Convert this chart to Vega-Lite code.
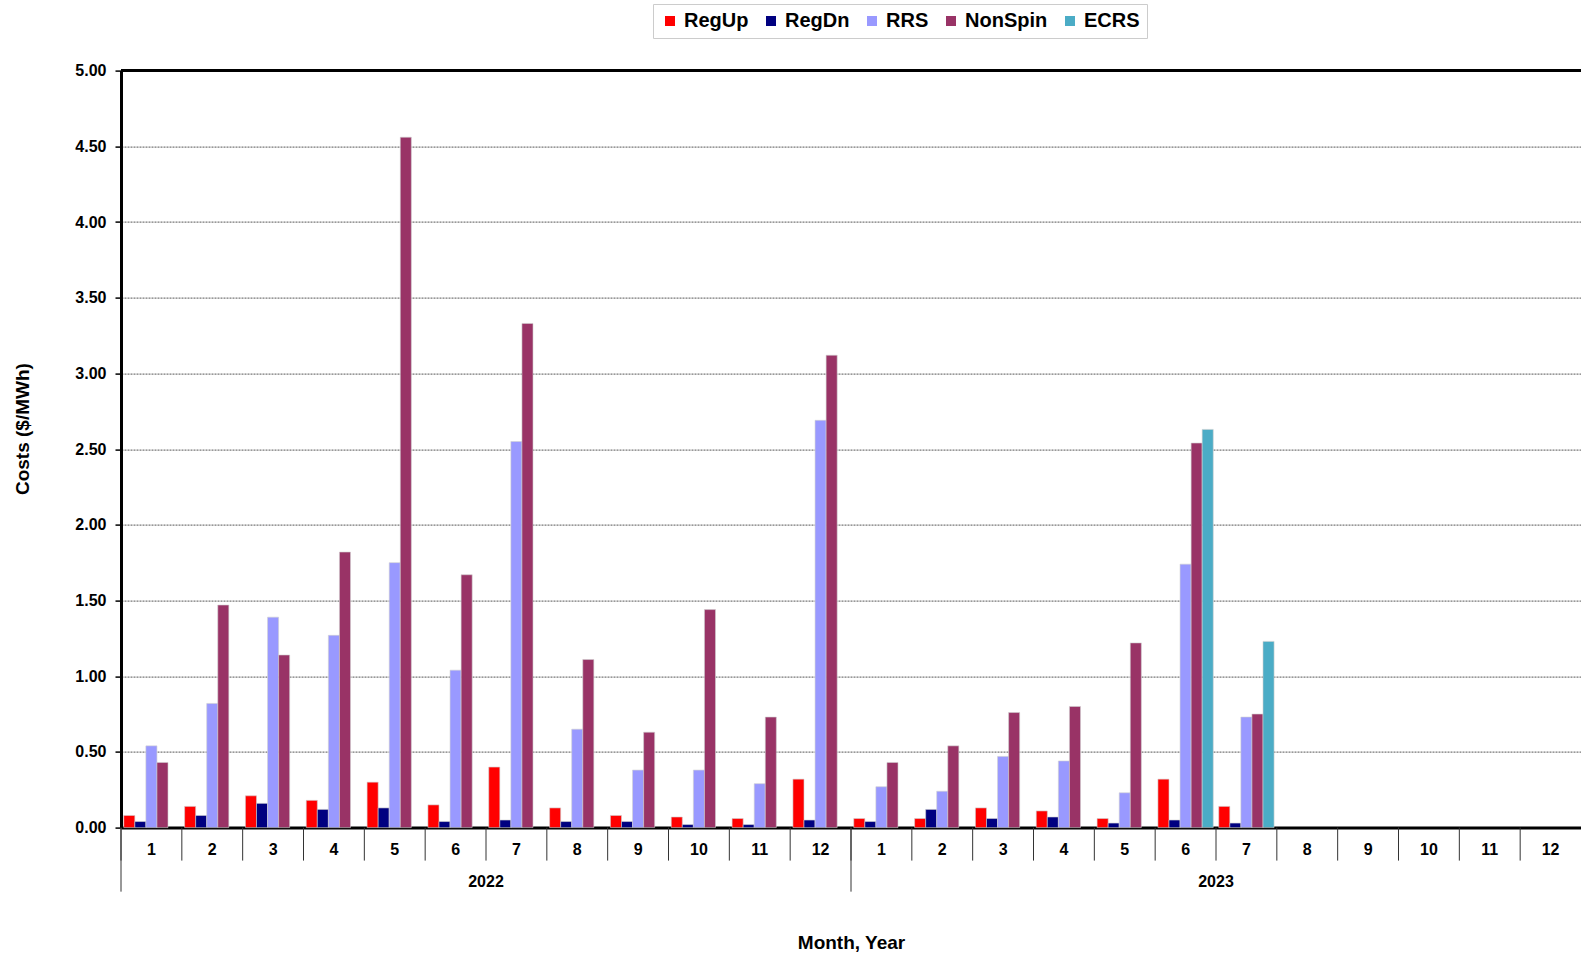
{
  "$schema": "https://vega.github.io/schema/vega-lite/v6.json",
  "autosize": {"type": "none"},
  "padding": {"left": 121, "top": 70.6, "right": 0, "bottom": 128.4},
  "width": 1460,
  "height": 757,
  "background": "white",
  "config": {
    "font": "Liberation Sans",
    "view": {"stroke": null},
    "axis": {"labelFont": "Liberation Sans", "titleFont": "Liberation Sans", "labelFontWeight": "bold", "titleFontWeight": "bold", "labelColor": "black", "titleColor": "black"}
  },
  "datasets": {
    "costs": [
      {"period": "2022-01", "year": 2022, "month": 1, "RegUp": 0.08, "RegDn": 0.04, "RRS": 0.54, "NonSpin": 0.43, "ECRS": 0},
      {"period": "2022-02", "year": 2022, "month": 2, "RegUp": 0.14, "RegDn": 0.08, "RRS": 0.82, "NonSpin": 1.47, "ECRS": 0},
      {"period": "2022-03", "year": 2022, "month": 3, "RegUp": 0.21, "RegDn": 0.16, "RRS": 1.39, "NonSpin": 1.14, "ECRS": 0},
      {"period": "2022-04", "year": 2022, "month": 4, "RegUp": 0.18, "RegDn": 0.12, "RRS": 1.27, "NonSpin": 1.82, "ECRS": 0},
      {"period": "2022-05", "year": 2022, "month": 5, "RegUp": 0.30, "RegDn": 0.13, "RRS": 1.75, "NonSpin": 4.56, "ECRS": 0},
      {"period": "2022-06", "year": 2022, "month": 6, "RegUp": 0.15, "RegDn": 0.04, "RRS": 1.04, "NonSpin": 1.67, "ECRS": 0},
      {"period": "2022-07", "year": 2022, "month": 7, "RegUp": 0.40, "RegDn": 0.05, "RRS": 2.55, "NonSpin": 3.33, "ECRS": 0},
      {"period": "2022-08", "year": 2022, "month": 8, "RegUp": 0.13, "RegDn": 0.04, "RRS": 0.65, "NonSpin": 1.11, "ECRS": 0},
      {"period": "2022-09", "year": 2022, "month": 9, "RegUp": 0.08, "RegDn": 0.04, "RRS": 0.38, "NonSpin": 0.63, "ECRS": 0},
      {"period": "2022-10", "year": 2022, "month": 10, "RegUp": 0.07, "RegDn": 0.02, "RRS": 0.38, "NonSpin": 1.44, "ECRS": 0},
      {"period": "2022-11", "year": 2022, "month": 11, "RegUp": 0.06, "RegDn": 0.02, "RRS": 0.29, "NonSpin": 0.73, "ECRS": 0},
      {"period": "2022-12", "year": 2022, "month": 12, "RegUp": 0.32, "RegDn": 0.05, "RRS": 2.69, "NonSpin": 3.12, "ECRS": 0},
      {"period": "2023-01", "year": 2023, "month": 1, "RegUp": 0.06, "RegDn": 0.04, "RRS": 0.27, "NonSpin": 0.43, "ECRS": 0},
      {"period": "2023-02", "year": 2023, "month": 2, "RegUp": 0.06, "RegDn": 0.12, "RRS": 0.24, "NonSpin": 0.54, "ECRS": 0},
      {"period": "2023-03", "year": 2023, "month": 3, "RegUp": 0.13, "RegDn": 0.06, "RRS": 0.47, "NonSpin": 0.76, "ECRS": 0},
      {"period": "2023-04", "year": 2023, "month": 4, "RegUp": 0.11, "RegDn": 0.07, "RRS": 0.44, "NonSpin": 0.80, "ECRS": 0},
      {"period": "2023-05", "year": 2023, "month": 5, "RegUp": 0.06, "RegDn": 0.03, "RRS": 0.23, "NonSpin": 1.22, "ECRS": 0},
      {"period": "2023-06", "year": 2023, "month": 6, "RegUp": 0.32, "RegDn": 0.05, "RRS": 1.74, "NonSpin": 2.54, "ECRS": 2.63},
      {"period": "2023-07", "year": 2023, "month": 7, "RegUp": 0.14, "RegDn": 0.03, "RRS": 0.73, "NonSpin": 0.75, "ECRS": 1.23},
      {"period": "2023-08", "year": 2023, "month": 8, "RegUp": 0, "RegDn": 0, "RRS": 0, "NonSpin": 0, "ECRS": 0},
      {"period": "2023-09", "year": 2023, "month": 9, "RegUp": 0, "RegDn": 0, "RRS": 0, "NonSpin": 0, "ECRS": 0},
      {"period": "2023-10", "year": 2023, "month": 10, "RegUp": 0, "RegDn": 0, "RRS": 0, "NonSpin": 0, "ECRS": 0},
      {"period": "2023-11", "year": 2023, "month": 11, "RegUp": 0, "RegDn": 0, "RRS": 0, "NonSpin": 0, "ECRS": 0},
      {"period": "2023-12", "year": 2023, "month": 12, "RegUp": 0, "RegDn": 0, "RRS": 0, "NonSpin": 0, "ECRS": 0}
    ],
    "years": [
      {"period": "2022-07", "label": "2022", "pos": -0.36},
      {"period": "2023-07", "label": "2023", "pos": -0.36}
    ],
    "yearStarts": [
      {"period": "2022-01"},
      {"period": "2023-01"}
    ]
  },
  "layer": [
    {
      "data": {"name": "costs"},
      "transform": [
        {"fold": ["RegUp", "RegDn", "RRS", "NonSpin", "ECRS"], "as": ["service", "cost"]},
        {"filter": "datum.cost > 0"}
      ],
      "mark": {"type": "bar", "stroke": "#d0d0d0", "strokeWidth": 0.6},
      "encoding": {
        "x": {
          "field": "period", "type": "ordinal",
          "scale": {"paddingInner": 0, "paddingOuter": 0},
          "axis": {
            "orient": "bottom",
            "title": "Month, Year",
            "titleFontSize": 19,
            "titlePadding": 76,
            "labelExpr": "toNumber(slice(datum.value, 5))",
            "labelAngle": 0,
            "labelFontSize": 16,
            "labelPadding": 14,
            "ticks": false,
            "tickSize": 0,
            "domainColor": "black",
            "domainWidth": 3,
            "grid": false
          }
        },
        "xOffset": {
          "field": "service", "type": "nominal",
          "sort": ["RegUp", "RegDn", "RRS", "NonSpin", "ECRS"],
          "scale": {"paddingInner": 0, "paddingOuter": 0.25}
        },
        "y": {
          "field": "cost", "type": "quantitative",
          "scale": {"domain": [0, 5], "nice": false},
          "axis": {
            "title": "Costs ($/MWh)",
            "titleFontSize": 19,
            "titlePadding": 42,
            "titleY": 358,
            "values": [0, 0.5, 1, 1.5, 2, 2.5, 3, 3.5, 4, 4.5, 5],
            "format": ".2f",
            "labelFontSize": 16,
            "labelPadding": 9,
            "tickSize": 6,
            "tickColor": "black",
            "tickWidth": 1.5,
            "domainColor": "black",
            "domainWidth": 3,
            "grid": true,
            "gridColor": "#555",
            "gridDash": [2, 1],
            "gridWidth": 1
          }
        },
        "color": {
          "field": "service", "type": "nominal",
          "sort": ["RegUp", "RegDn", "RRS", "NonSpin", "ECRS"],
          "scale": {"range": ["#FF0000", "#000080", "#9999FF", "#993366", "#4BACC6"]},
          "legend": {
            "title": null,
            "orient": "none",
            "legendX": 532,
            "legendY": -66.6,
            "direction": "horizontal",
            "columns": 5,
            "symbolType": "square",
            "symbolSize": 100,
            "symbolStrokeWidth": 0,
            "labelFontSize": 20,
            "labelFontWeight": "bold",
            "labelColor": "black",
            "labelOffset": 4,
            "columnPadding": 12,
            "padding": 7,
            "strokeColor": "#cccccc"
          }
        }
      }
    },
    {
      "data": {"name": "costs"},
      "mark": {"type": "rule", "color": "black", "strokeWidth": 3},
      "encoding": {"y": {"datum": 5, "type": "quantitative"}}
    },
    {
      "data": {"name": "costs"},
      "mark": {"type": "rule", "color": "#333", "strokeWidth": 1},
      "encoding": {
        "x": {"field": "period", "type": "ordinal", "bandPosition": 0},
        "y": {"datum": 0, "type": "quantitative"},
        "y2": {"datum": -0.218}
      }
    },
    {
      "data": {"name": "yearStarts"},
      "mark": {"type": "rule", "color": "#333", "strokeWidth": 1},
      "encoding": {
        "x": {"field": "period", "type": "ordinal", "bandPosition": 0},
        "y": {"datum": 0, "type": "quantitative"},
        "y2": {"datum": -0.423}
      }
    },
    {
      "data": {"name": "years"},
      "mark": {"type": "text", "fontSize": 16, "fontWeight": "bold", "color": "black", "baseline": "middle", "align": "center"},
      "encoding": {
        "x": {"field": "period", "type": "ordinal", "bandPosition": 0},
        "y": {"field": "pos", "type": "quantitative"},
        "text": {"field": "label"}
      }
    }
  ]
}
